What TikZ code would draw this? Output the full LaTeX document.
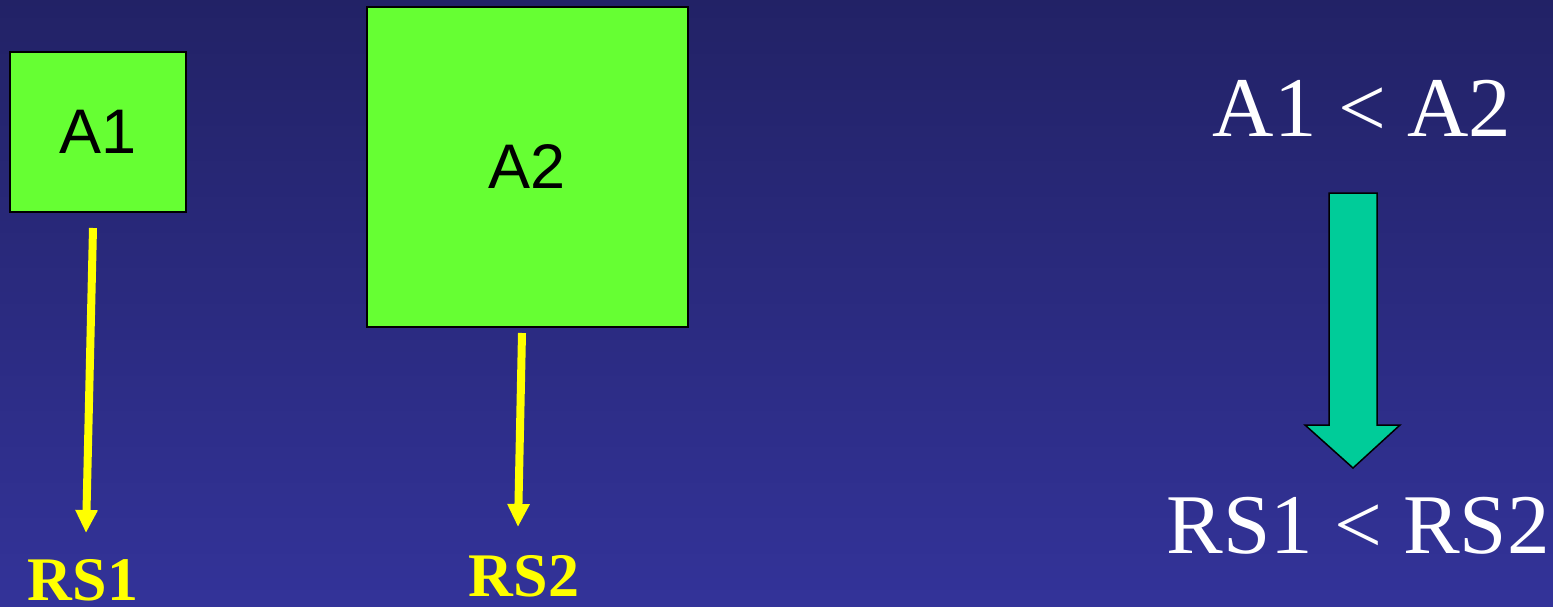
\documentclass[tikz,border=0pt]{standalone}
\usepackage{fontspec}
\setmainfont{Liberation Serif}
\newfontfamily\arialfont{Liberation Sans}
\usetikzlibrary{arrows.meta}
\definecolor{bgtop}{HTML}{222266}
\definecolor{bgbot}{HTML}{333399}
\definecolor{boxgreen}{HTML}{66FF33}
\definecolor{arrowteal}{HTML}{00CC99}
\definecolor{ylw}{HTML}{FFFF00}
\tikzset{
  areabox/.style={draw=black, line width=2pt, fill=boxgreen, inner sep=0pt,
    font=\arialfont\fontsize{63}{70}\selectfont, text=black},
  yarrow/.style={draw=ylw, line width=8pt, -{Triangle[width=21pt,length=23pt]}},
  rslabel/.style={text=ylw, font=\bfseries\fontsize{62}{70}\selectfont, anchor=base, inner sep=0pt},
  bigtext/.style={text=white, font=\fontsize{85}{90}\selectfont, anchor=base, inner sep=0pt},
  fatarrow/.style={draw=black, line width=1.5pt, fill=arrowteal, line join=miter}
}
\begin{document}
\begin{tikzpicture}[x=1pt,y=-1pt]
  \shade[top color=bgtop, bottom color=bgbot] (0,0) rectangle (1553,607);
  \useasboundingbox (0,0) rectangle (1553,607);
  % boxes
  \node[areabox, minimum width=176pt, minimum height=160pt] (A1) at (98,132) {A1};
  \node[areabox, minimum width=321pt, minimum height=320pt] (A2) at (527.5,167) {A2};
  % labels
  \node[rslabel] (RS1) at (83,600) {RS1};
  \node[rslabel] (RS2) at (524,596) {RS2};
  % yellow arrows
  \coordinate (a1s) at (93,228);
  \coordinate (a1e) at (86,533);
  \coordinate (a2s) at (522,333);
  \coordinate (a2e) at (518,527);
  \draw[yarrow] (a1s) -- (a1e);
  \draw[yarrow] (a2s) -- (a2e);
  % right side
  \node[bigtext] (cmpA) at (1362,137) {A1 < A2};
  \node[bigtext] (cmpRS) at (1358,553) {RS1 < RS2};
  \draw[fatarrow] (1329,193) -- (1377,193) -- (1377,425) -- (1400,425) -- (1353,468)
    -- (1305,425) -- (1329,425) -- cycle;
\end{tikzpicture}
\end{document}
